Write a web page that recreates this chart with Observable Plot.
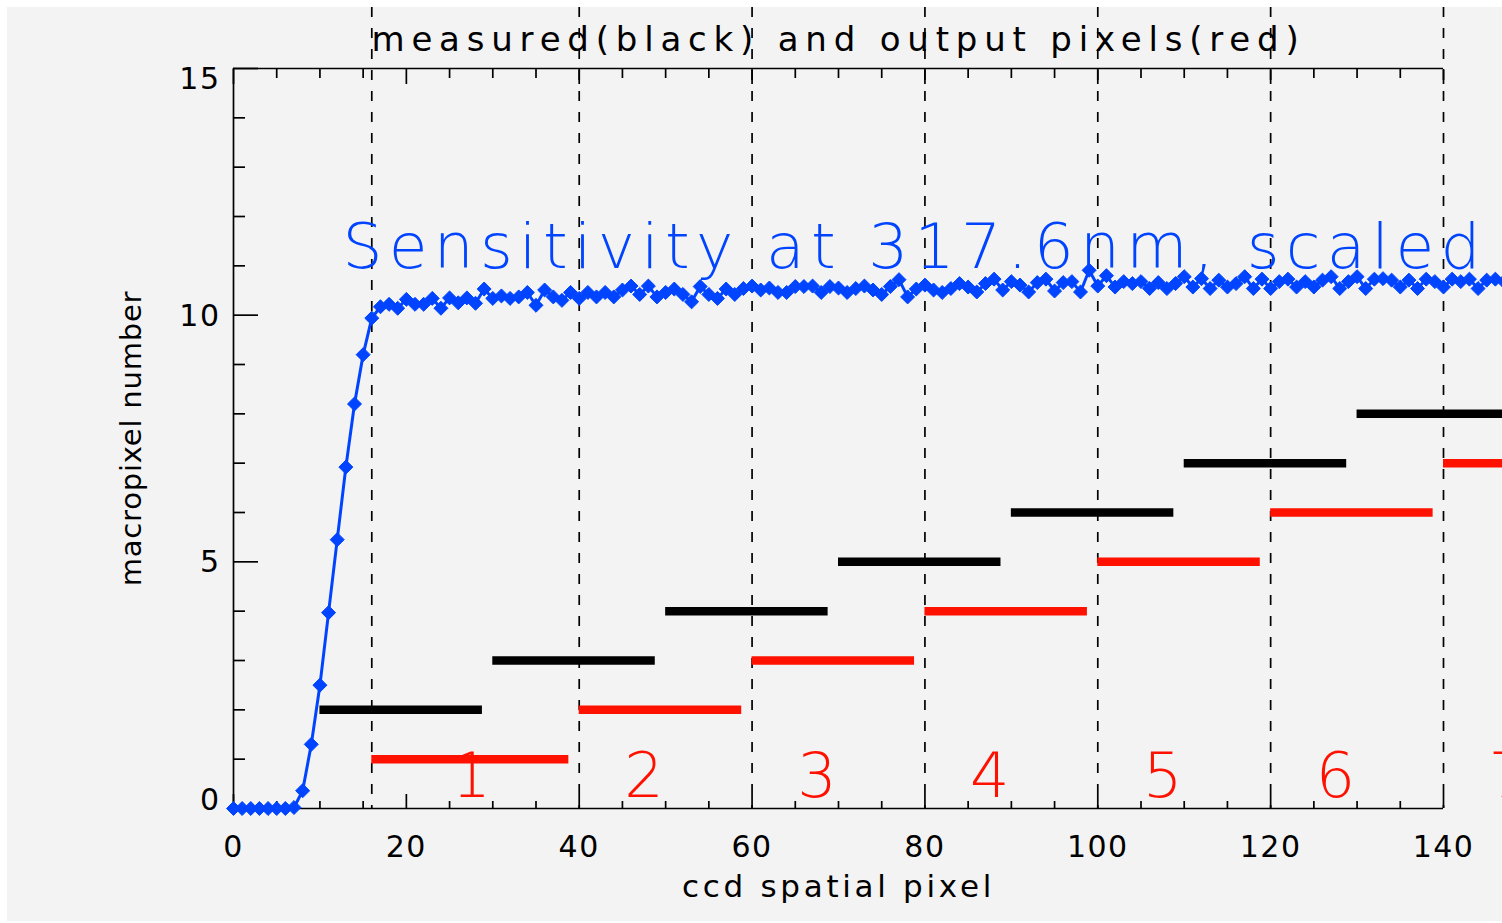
<!DOCTYPE html>
<html><head><meta charset="utf-8">
<script src="https://cdn.jsdelivr.net/npm/d3@7"></script>
<script src="https://cdn.jsdelivr.net/npm/@observablehq/plot@0.6"></script>
<style>
html,body{margin:0;padding:0;background:#fff;width:1502px;height:923px;overflow:hidden}
#panel{position:absolute;left:7px;top:7px;width:1495px;height:914px;background:#f3f3f3;overflow:hidden}
#chart{position:absolute;left:-7px;top:-7px}
</style></head><body><div id="panel"><div id="chart"></div></div>
<script>
// ---- data ----
const titleText = "measured(black) and output pixels(red)";
const xLabelText = "ccd spatial pixel";
const yLabelText = "macropixel number";
const curveLabel = "Sensitivity at 317.6nm, scaled";

// sensitivity curve (scaled), one value per ccd spatial pixel 0..147
const sensitivity = [
  0,0,0,0,0,0,0,0.02,
  0.36,1.3,2.5,3.97,5.45,6.92,8.2,9.2,9.94,
  10.17,10.22,10.14,10.32,10.22,10.22,10.34,10.14,10.35,10.25,10.35,10.24,10.53,10.34,10.39,10.34,10.37,10.46,10.2,10.51,10.37,10.3,
  10.46,10.34,10.46,10.37,10.46,10.37,10.51,10.59,10.42,10.59,10.37,10.46,10.53,10.42,10.27,10.58,10.42,10.34,10.53,10.42,10.54,10.59,10.51,
  10.55,10.46,10.46,10.58,10.58,10.59,10.46,10.58,10.55,10.46,10.54,10.59,10.51,10.42,10.58,10.72,10.37,10.53,10.61,10.51,10.46,10.54,10.64,
  10.57,10.47,10.64,10.73,10.51,10.68,10.61,10.47,10.66,10.73,10.49,10.66,10.68,10.47,10.91,10.59,10.8,10.57,10.68,10.64,10.68,10.54,10.66,
  10.54,10.64,10.78,10.57,10.74,10.54,10.71,10.57,10.64,10.78,10.54,10.73,10.54,10.68,10.73,10.57,10.68,10.57,10.71,10.78,10.54,10.68,10.78,
  10.54,10.73,10.74,10.71,10.57,10.71,10.54,10.73,10.68,10.57,10.73,10.68,10.73,10.54,10.71,10.73,10.68
];

// measured macropixels (black)
const measuredStart = [10,30,50,70,90,110,130];
const measuredEnd   = [28.8,48.8,68.8,88.8,108.8,128.8,148.8];
const measuredMacro = [2,3,4,5,6,7,8];

// output macropixels (red)
const outputStart = [16,40,60,80,100,120,140];
const outputEnd   = [38.8,58.8,78.8,98.8,118.8,138.8,158.8];
const outputMacro = [1,2,3,4,5,6,7];
const outputLabel = ["1","2","3","4","5","6","7"];
const outputLabelX = [27.5,47.5,67.5,87.5,107.5,127.5,147.5];

// output pixel boundaries (dashed)
const boundaryX = [16,40,60,80,100,120,140];

// ticks
const xTicks = [0,20,40,60,80,100,120,140];
const xMinor = [5,10,15,25,30,35,45,50,55,65,70,75,85,90,95,105,110,115,125,130,135];
const yTicks = [0,5,10,15];
const yMinor = [1,2,3,4,6,7,8,9,11,12,13,14];

// ---- build ----
const FONT = "DejaVu Sans";
const BLUE = "#0044ff";
const RED = "#ff1100";
const curve = sensitivity.map((v, i) => ({px: i, v}));
const measured = measuredMacro.map((m, i) => ({m, a: measuredStart[i], b: measuredEnd[i]}));
const output = outputMacro.map((m, i) => ({m, a: outputStart[i], b: outputEnd[i], lab: outputLabel[i], lx: outputLabelX[i]}));
const yTop = yTicks[yTicks.length - 1], yBottom = yTicks[0];
const yMid = yTicks.slice(1, -1);

const plot = Plot.plot({
  width: 1502, height: 923,
  marginLeft: 233, marginRight: 59, marginTop: 68, marginBottom: 115,
  x: {domain: [0, 140], axis: null},
  y: {domain: [0, 15], axis: null},
  style: {background: "transparent", maxWidth: "none", overflow: "visible", fontFamily: FONT, color: "#000"},
  marks: [
    Plot.ruleX(boundaryX, {stroke: "#000", strokeWidth: 1.7, strokeDasharray: "10,11", insetTop: -61}),
    Plot.ruleX([0], {stroke: "#000", strokeWidth: 1.7}),
    Plot.ruleY([0, 15], {stroke: "#000", strokeWidth: 1.7}),
    // ticks
    Plot.axisX({anchor: "bottom", ticks: xTicks, tickSize: -14, fill: "none", strokeWidth: 1.7, label: null}),
    Plot.axisX({anchor: "bottom", ticks: xMinor, tickSize: -7, fill: "none", strokeWidth: 1.7, label: null}),
    Plot.axisX({anchor: "top", ticks: xTicks, tickSize: -15, fill: "none", strokeWidth: 1.7, label: null}),
    Plot.axisX({anchor: "top", ticks: xMinor, tickSize: -9, fill: "none", strokeWidth: 1.7, label: null}),
    Plot.axisY({anchor: "left", ticks: yTicks, tickSize: -25, fill: "none", strokeWidth: 1.7, label: null}),
    Plot.axisY({anchor: "left", ticks: yMinor, tickSize: -12, fill: "none", strokeWidth: 1.7, label: null}),
    // tick labels
    Plot.axisX({anchor: "bottom", ticks: xTicks, tickSize: 0, tickPadding: 27, fontSize: 30, label: null, fill: "#000"}),
    Plot.axisY({anchor: "left", ticks: yMid, tickSize: 0, tickPadding: 13, dy: 1, fontSize: 30, label: null, fill: "#000"}),
    Plot.axisY({anchor: "left", ticks: [yTop], tickSize: 0, tickPadding: 13, dy: 11, fontSize: 30, label: null, fill: "#000"}),
    Plot.axisY({anchor: "left", ticks: [yBottom], tickSize: 0, tickPadding: 13, dy: -8, fontSize: 30, label: null, fill: "#000"}),
    // macropixel segments
    Plot.ruleY(measured, {y: "m", x1: "a", x2: "b", stroke: "#000", strokeWidth: 8.5}),
    Plot.ruleY(output, {y: "m", x1: "a", x2: "b", stroke: RED, strokeWidth: 8.5}),
    Plot.text(output, {x: "lx", y: 0.24, text: "lab", fill: RED, fontSize: 62, lineAnchor: "bottom", textAnchor: "middle"}),
    // sensitivity
    Plot.line(curve, {x: "px", y: "v", stroke: BLUE, strokeWidth: 3}),
    Plot.dot(curve, {x: "px", y: "v", symbol: "diamond2", r: 6.3, fill: BLUE, stroke: BLUE, strokeWidth: 1}),
    Plot.text([curveLabel], {x: 12.6, y: 10.95, textAnchor: "start", lineAnchor: "bottom", fill: BLUE, fontSize: 63}),
    // titles
    Plot.text([titleText], {frameAnchor: "top", dy: -18, lineAnchor: "bottom", textAnchor: "middle", fontSize: 34, fill: "#000"}),
    Plot.text([xLabelText], {frameAnchor: "bottom", dy: 79, lineAnchor: "middle", textAnchor: "middle", fontSize: 31, fill: "#000"}),
    Plot.text([yLabelText], {frameAnchor: "left", dx: -102, rotate: -90, lineAnchor: "middle", textAnchor: "middle", fontSize: 29, fill: "#000"})
  ]
});
const textStyle = {
  "30": ["1.5px", 400],
  "31": ["3.7px", 400],
  "29": ["0.8px", 400],
  "34": ["6.8px", 400],
  "63": ["6.3px", 200],
  "62": ["0px", 200]
};
d3.select(plot).selectAll("[font-size]").each(function() {
  const s = textStyle[this.getAttribute("font-size")];
  if (s) { this.style.letterSpacing = s[0]; this.style.fontWeight = s[1]; }
});
document.getElementById("chart").appendChild(plot);
</script></body></html>
